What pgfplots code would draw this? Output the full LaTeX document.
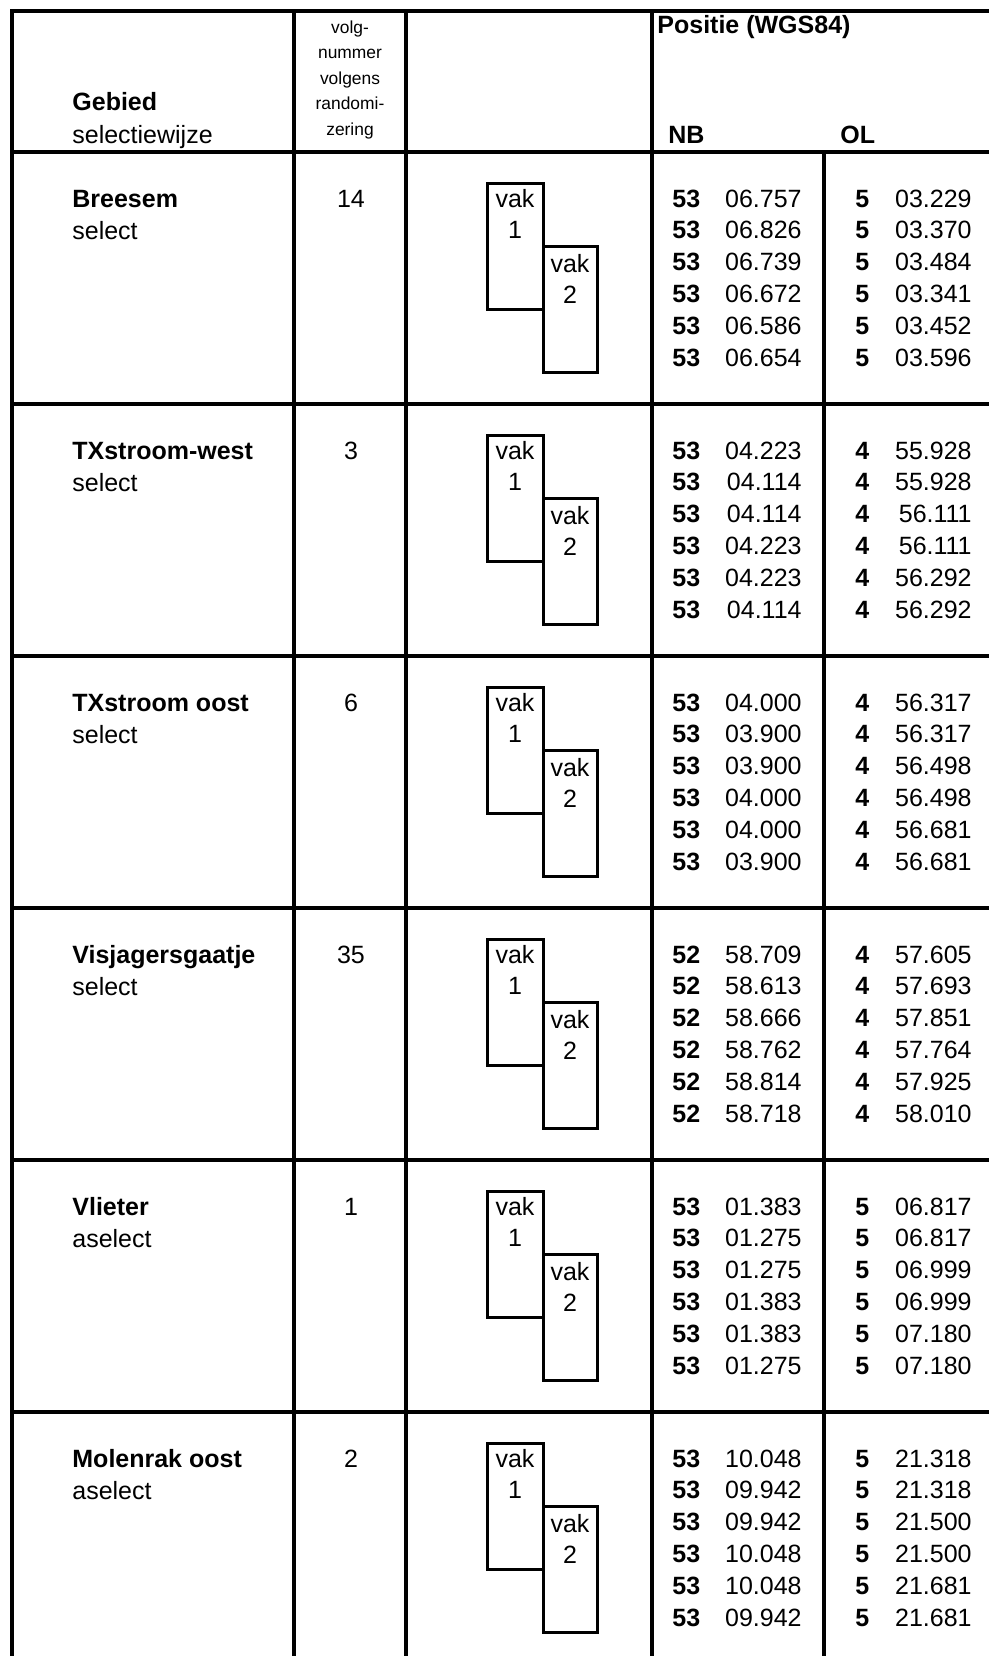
\documentclass[border=0pt]{standalone}
\usepackage{pgfplots}
\usepackage{pgfplotstable}
\usepackage{fontspec}
\setmainfont{Liberation Sans}
\pgfplotsset{compat=1.18}

% one unit = one pixel of the 989 x 1656 sheet, y runs downwards
\newcommand\main{\fontsize{12.5}{15}\selectfont}
\newcommand\klein{\fontsize{8.7}{10}\selectfont}
\tikzset{txt/.style={font=\main}}
\pgfplotsset{
  rule/.style={black, line width=1.7pt, line cap=rect},
  box/.style={black, line width=1.5pt, line join=miter},
  lab/.style={draw=none, nodes near coords, point meta=explicit symbolic},
}

% gebieden: top of block, name, selectiewijze, volgnummer
\pgfplotstableread[col sep=comma]{
T,name,sel,num
152,Breesem,select,14
404,TXstroom-west,select,3
656,TXstroom oost,select,6
908,Visjagersgaatje,select,35
1160,Vlieter,aselect,1
1412,Molenrak oost,aselect,2
}\gebieden

% posities: baseline, NB graden, NB minuten, OL graden, OL minuten
\pgfplotstableread{
y nbd nbm old olm
207 53 06.757 5 03.229
238.8 53 06.826 5 03.370
270.6 53 06.739 5 03.484
302.4 53 06.672 5 03.341
334.2 53 06.586 5 03.452
366 53 06.654 5 03.596
459 53 04.223 4 55.928
490.8 53 04.114 4 55.928
522.6 53 04.114 4 56.111
554.4 53 04.223 4 56.111
586.2 53 04.223 4 56.292
618 53 04.114 4 56.292
711 53 04.000 4 56.317
742.8 53 03.900 4 56.317
774.6 53 03.900 4 56.498
806.4 53 04.000 4 56.498
838.2 53 04.000 4 56.681
870 53 03.900 4 56.681
963 52 58.709 4 57.605
994.8 52 58.613 4 57.693
1026.6 52 58.666 4 57.851
1058.4 52 58.762 4 57.764
1090.2 52 58.814 4 57.925
1122 52 58.718 4 58.010
1215 53 01.383 5 06.817
1246.8 53 01.275 5 06.817
1278.6 53 01.275 5 06.999
1310.4 53 01.383 5 06.999
1342.2 53 01.383 5 07.180
1374 53 01.275 5 07.180
1467 53 10.048 5 21.318
1498.8 53 09.942 5 21.318
1530.6 53 09.942 5 21.500
1562.4 53 10.048 5 21.500
1594.2 53 10.048 5 21.681
1626 53 09.942 5 21.681
}\posities

% vak boxes, offsets from block top
\pgfplotstableread{
x y
487 31
543 31
543 157
487 157
}\vakeen
\pgfplotstableread{
x y
543 94
597 94
597 220
543 220
}\vaktwee
\pgfplotstableread{
x y t
515 55 vak
515 86 1
570 120 vak
570 151 2
}\vaktext

\begin{document}
\begin{tikzpicture}
\begin{axis}[
    name=ax,
    scale only axis,
    width=494.5pt, height=828pt,
    xmin=0, xmax=989, ymin=0, ymax=1656,
    y dir=reverse,
    hide axis,
    clip=true,
]
% raster
\addplot[rule, line width=2.4pt] coordinates {(12,11) (1000,11)};
\addplot[rule] coordinates {(12,11) (12,1700)};
\pgfplotsinvokeforeach{294,406,652}{
  \addplot[rule] coordinates {(#1,11) (#1,1700)};
}
\addplot[rule] coordinates {(824,152) (824,1700)};
\addplot[rule, line width=2pt] coordinates {(12,152) (1000,152)};
\pgfplotsinvokeforeach{404,656,908,1160,1412}{
  \addplot[rule] coordinates {(12,#1) (1000,#1)};
}

% kop
\node[anchor=base west, inner sep=0pt, font=\main\bfseries] at (axis cs:72,110) {Gebied};
\node[anchor=base west, inner sep=0pt, font=\main] at (axis cs:72,143) {selectiewijze};
\node[anchor=base, inner sep=0pt, font=\klein] at (axis cs:350,33) {volg-};
\node[anchor=base, inner sep=0pt, font=\klein] at (axis cs:350,58) {nummer};
\node[anchor=base, inner sep=0pt, font=\klein] at (axis cs:350,84) {volgens};
\node[anchor=base, inner sep=0pt, font=\klein] at (axis cs:350,109) {randomi-};
\node[anchor=base, inner sep=0pt, font=\klein] at (axis cs:350,135) {zering};
\node[anchor=base west, inner sep=0pt, font=\main\bfseries] at (axis cs:657,33) {Positie (WGS84)};
\node[anchor=base west, inner sep=0pt, font=\main\bfseries] at (axis cs:668,143) {NB};
\node[anchor=base west, inner sep=0pt, font=\main\bfseries] at (axis cs:840,143) {OL};

% gebieden
\addplot[lab, nodes near coords style={anchor=base west, inner sep=0pt, font=\main\bfseries}]
  table[x expr=72, y expr=\thisrow{T}+55, meta=name] {\gebieden};
\addplot[lab, nodes near coords style={anchor=base west, inner sep=0pt, txt}]
  table[x expr=72, y expr=\thisrow{T}+87, meta=sel] {\gebieden};
\addplot[lab, nodes near coords style={anchor=base, inner sep=0pt, txt}]
  table[x expr=351, y expr=\thisrow{T}+55, meta=num] {\gebieden};

% vakken
\pgfplotsinvokeforeach{152,404,656,908,1160,1412}{
  \addplot[box] table[x=x, y expr=\thisrow{y}+#1] {\vakeen} -- cycle;
  \addplot[box] table[x=x, y expr=\thisrow{y}+#1] {\vaktwee} -- cycle;
  \addplot[lab, nodes near coords style={anchor=base, inner sep=0pt, txt}]
    table[x=x, y expr=\thisrow{y}+#1, meta=t] {\vaktext};
}

% posities
\addplot[lab, nodes near coords style={anchor=base west, inner sep=0pt, font=\main\bfseries}]
  table[x expr=672, y=y, meta=nbd] {\posities};
\addplot[lab, nodes near coords style={anchor=base east, inner sep=0pt, txt}]
  table[x expr=802, y=y, meta=nbm] {\posities};
\addplot[lab, nodes near coords style={anchor=base west, inner sep=0pt, font=\main\bfseries}]
  table[x expr=855, y=y, meta=old] {\posities};
\addplot[lab, nodes near coords style={anchor=base east, inner sep=0pt, txt}]
  table[x expr=972, y=y, meta=olm] {\posities};
\end{axis}
\pgfresetboundingbox
\path[use as bounding box] (ax.south west) rectangle (ax.north east);
\end{tikzpicture}
\end{document}
